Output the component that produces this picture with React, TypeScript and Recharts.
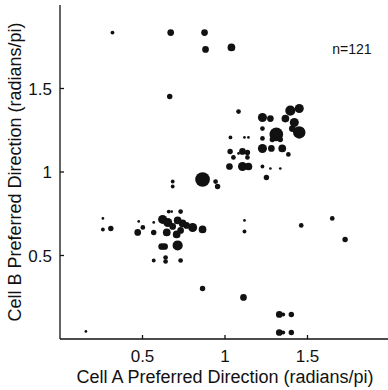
import { ScatterChart, Scatter, XAxis, YAxis, ZAxis } from "recharts";

// preferred direction of cell A (radians/pi)
const cellA = [
  0.157, 0.318, 0.671, 0.876, 0.882, 1.039, 0.665, 1.082, 1.033, 1.031,
  1.051, 1.027, 0.864, 0.683, 0.683, 0.943, 0.955, 1.227, 1.275, 1.396,
  1.45, 1.366, 1.42, 1.408, 1.45, 1.311, 1.287, 1.335, 1.227, 1.227,
  1.118, 1.142, 1.227, 1.281, 1.347, 1.384, 1.106, 1.136, 1.082, 1.136,
  1.106, 1.142, 1.227, 1.275, 1.335, 1.251, 0.26, 0.26, 0.308, 0.477,
  0.502, 0.471, 0.568, 0.568, 0.659, 0.677, 0.731, 0.622, 0.653, 0.683,
  0.647, 0.713, 0.743, 0.707, 0.731, 0.767, 0.804, 0.864, 0.616, 0.634,
  0.713, 0.568, 0.64, 0.64, 0.731, 0.864, 1.118, 1.118, 1.462, 1.65,
  1.728, 1.112, 1.329, 1.353, 1.402, 1.329, 1.353, 1.402,
];

// preferred direction of cell B (radians/pi)
const cellB = [
  0.045, 1.835, 1.835, 1.835, 1.734, 1.746, 1.452, 1.362, 1.207, 1.123,
  1.087, 1.033, 0.955, 0.943, 0.913, 0.943, 0.913, 1.326, 1.32, 1.368,
  1.38, 1.32, 1.296, 1.26, 1.237, 1.225, 1.195, 1.195, 1.26, 1.201,
  1.207, 1.207, 1.141, 1.141, 1.141, 1.105, 1.123, 1.117, 1.111, 1.087,
  1.033, 1.033, 1.033, 1.021, 1.021, 0.967, 0.722, 0.656, 0.662, 0.704,
  0.668, 0.638, 0.698, 0.638, 0.763, 0.763, 0.763, 0.716, 0.698, 0.674,
  0.638, 0.71, 0.692, 0.626, 0.65, 0.68, 0.668, 0.656, 0.554, 0.554,
  0.56, 0.47, 0.488, 0.464, 0.47, 0.302, 0.71, 0.644, 0.68, 0.722,
  0.596, 0.249, 0.147, 0.147, 0.147, 0.039, 0.039, 0.039,
];

// number of pairs at each point (dot area)
const pairCount = [
  1, 2, 6, 6, 6, 8, 4, 3, 2, 4,
  3, 6, 29, 2, 2, 3, 4, 11, 6, 14,
  11, 8, 11, 6, 21, 25, 4, 4, 3, 3,
  1, 1, 11, 6, 8, 3, 6, 4, 1, 3,
  11, 8, 2, 1, 1, 4, 1, 2, 4, 1,
  3, 6, 1, 4, 2, 1, 3, 11, 11, 6,
  8, 8, 8, 8, 6, 6, 11, 8, 6, 6,
  14, 2, 3, 3, 3, 4, 1, 2, 3, 3,
  4, 6, 6, 2, 4, 6, 2, 4,
];

const axisTicks = [0.5, 1, 1.5];

const points = cellA.map((a, i) => ({ x: a, y: cellB[i], n: pairCount[i] }));

const font = "'Liberation Sans', Arial, Helvetica, sans-serif";
const ink = "#111";

const App = () => {
  return (
    <div
      style={{
        position: "absolute",
        left: 0,
        top: 0,
        width: 388,
        height: 390,
        overflow: "hidden",
        background: "#fff",
        fontFamily: font,
      }}
    >
      <ScatterChart
        width={390}
        height={390}
        margin={{ top: 5, right: 0, bottom: 0, left: 0 }}
      >
        <XAxis
          dataKey="x"
          type="number"
          domain={[0, 2]}
          ticks={axisTicks}
          height={51}
          tickSize={-4}
          tickMargin={15}
          stroke={ink}
          strokeWidth={1.3}
          tick={{ fill: ink, fontSize: 17, fontFamily: font }}
          label={{
            value: "Cell A Preferred Direction (radians/pi)",
            position: "insideBottom",
            offset: 7,
            fill: ink,
            fontSize: 18,
            fontFamily: font,
          }}
        />
        <XAxis
          xAxisId="top"
          orientation="top"
          type="number"
          domain={[0, 2]}
          ticks={axisTicks}
          height={0}
          mirror
          tickSize={4}
          tick={false}
          stroke={ink}
          strokeWidth={1.3}
        />
        <YAxis
          dataKey="y"
          type="number"
          domain={[0, 2]}
          ticks={axisTicks}
          width={60}
          tickSize={-4}
          tickMargin={12}
          stroke={ink}
          strokeWidth={1.3}
          tick={{ fill: ink, fontSize: 17, fontFamily: font }}
          label={{
            value: "Cell B Preferred Direction (radians/pi)",
            angle: -90,
            position: "center",
            dx: -15,
            fill: ink,
            fontSize: 18,
            fontFamily: font,
          }}
        />
        <ZAxis dataKey="n" type="number" domain={[0, 30]} range={[0, 175]} />
        <Scatter data={points} fill={ink} isAnimationActive={false} />
        <text
          x={352}
          y={50}
          textAnchor="middle"
          dominantBaseline="middle"
          fontSize={14}
          fontFamily={font}
          fill={ink}
        >
          n=121
        </text>
      </ScatterChart>
    </div>
  );
};

export default App;
